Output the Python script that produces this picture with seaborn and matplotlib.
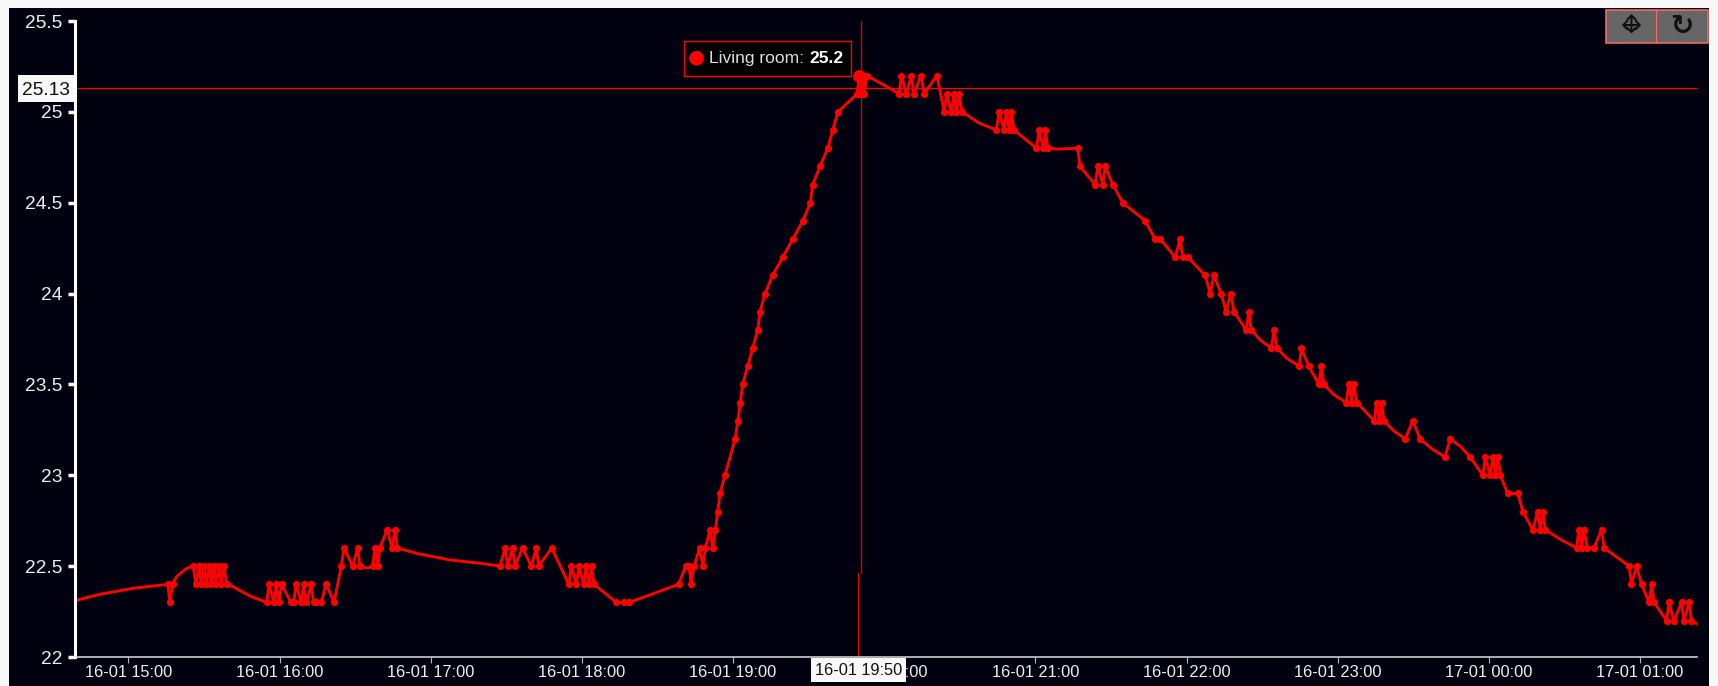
import pandas as pd
import seaborn as sns
import matplotlib.pyplot as plt
from matplotlib.patches import Rectangle

# Sensor readings, minutes after 16-01 15:00
dot_minutes = [
    15.6, 16.5, 17.5, 25.7, 26.8, 28.0, 28.9, 30.0, 30.9, 32.0, 32.9, 33.9, 34.9, 35.9, 36.8, 37.9, 39.0,
    54.9, 55.8, 57.8, 58.7, 59.7, 60.8, 64.5, 65.6, 66.6, 68.6, 69.6, 70.6, 72.6, 73.5, 74.4, 76.5, 78.5,
    81.6, 84.5, 85.6, 89.0, 91.0, 91.9, 96.9, 97.9, 98.9, 99.8, 102.7, 104.7, 105.8, 106.7,
    147.5, 149.5, 150.5, 152.5, 153.4, 156.5, 159.9, 161.9, 162.8, 168.0, 174.8, 175.8, 177.8, 178.8,
    180.7, 181.7, 182.7, 183.9, 184.8, 193.7, 196.6, 198.7, 218.4, 221.2, 222.5, 223.4, 224.5, 226.8,
    228.0, 229.0, 230.9, 231.9, 233.0, 233.9, 234.8, 236.8, 240.8, 241.9, 242.9, 243.8, 245.8, 247.8,
    249.8, 250.7, 252.7, 255.7, 259.7, 263.7, 267.7, 270.7, 271.6, 274.5, 277.6, 279.6, 281.6,
    289.3, 290.0, 290.8, 291.4, 292.0, 293.1, 305.9, 306.8, 308.8, 310.8, 311.7, 314.7, 315.8, 320.9,
    323.8, 324.8, 326.5, 327.7, 328.6, 329.7, 330.9, 344.5, 345.6, 347.6, 348.5, 349.6, 350.5, 351.5,
    360.4, 361.5, 363.1, 364.0, 364.9, 376.8, 377.7, 383.7, 384.8, 386.8, 387.7, 390.7, 394.7, 403.6,
    407.5, 409.6, 415.5, 417.4, 418.5, 420.5, 427.4, 429.4, 430.9, 433.7, 435.7, 437.5, 438.9, 443.6,
    444.8, 445.6, 453.6, 454.8, 455.8, 464.7, 465.6, 468.5, 472.5, 473.5, 474.5, 483.3, 484.4, 485.5,
    486.4, 487.6, 494.5, 495.4, 496.4, 497.4, 498.4, 506.8, 509.8, 512.7, 522.6, 524.6, 532.6, 537.6,
    538.5, 540.5, 541.6, 542.6, 543.6, 544.6, 547.4, 551.5, 553.5, 557.4, 559.4, 560.4, 561.4, 562.4,
    574.8, 575.7, 576.8, 577.8, 579.0, 581.7, 584.7, 585.8, 595.7, 596.6, 598.6, 600.6, 603.6, 604.6,
    605.6, 610.5, 611.5, 613.4, 616.5, 617.4, 619.5, 620.4,
]
dot_temps = [
    22.4, 22.3, 22.4, 22.5, 22.4, 22.5, 22.4, 22.5, 22.4, 22.5, 22.4, 22.5, 22.4, 22.5, 22.4, 22.5, 22.4,
    22.3, 22.4, 22.3, 22.4, 22.3, 22.4, 22.3, 22.3, 22.4, 22.3, 22.4, 22.3, 22.4, 22.3, 22.3, 22.3, 22.4,
    22.3, 22.5, 22.6, 22.5, 22.6, 22.5, 22.5, 22.6, 22.5, 22.6, 22.7, 22.6, 22.7, 22.6,
    22.5, 22.6, 22.5, 22.6, 22.5, 22.6, 22.5, 22.6, 22.5, 22.6, 22.4, 22.5, 22.4, 22.5,
    22.4, 22.5, 22.4, 22.5, 22.4, 22.3, 22.3, 22.3, 22.4, 22.5, 22.5, 22.4, 22.5, 22.6,
    22.5, 22.6, 22.7, 22.6, 22.7, 22.8, 22.9, 23.0, 23.2, 23.3, 23.4, 23.5, 23.6, 23.7,
    23.8, 23.9, 24.0, 24.1, 24.2, 24.3, 24.4, 24.5, 24.6, 24.7, 24.8, 24.9, 25.0,
    25.1, 25.2, 25.1, 25.2, 25.1, 25.2, 25.1, 25.2, 25.1, 25.2, 25.1, 25.2, 25.1, 25.2,
    25.0, 25.1, 25.0, 25.1, 25.0, 25.1, 25.0, 24.9, 25.0, 24.9, 25.0, 24.9, 25.0, 24.9,
    24.8, 24.9, 24.8, 24.9, 24.8, 24.8, 24.7, 24.6, 24.7, 24.6, 24.7, 24.6, 24.5, 24.4,
    24.3, 24.3, 24.2, 24.3, 24.2, 24.2, 24.1, 24.0, 24.1, 24.0, 23.9, 24.0, 23.9, 23.8,
    23.9, 23.8, 23.7, 23.8, 23.7, 23.6, 23.7, 23.6, 23.5, 23.6, 23.5, 23.4, 23.5, 23.4,
    23.5, 23.4, 23.3, 23.4, 23.3, 23.4, 23.3, 23.2, 23.3, 23.2, 23.1, 23.2, 23.1, 23.0,
    23.1, 23.0, 23.1, 23.0, 23.1, 23.0, 22.9, 22.9, 22.8, 22.7, 22.8, 22.7, 22.8, 22.7,
    22.6, 22.7, 22.6, 22.7, 22.6, 22.6, 22.7, 22.6, 22.5, 22.4, 22.5, 22.4, 22.3, 22.4,
    22.3, 22.2, 22.3, 22.2, 22.3, 22.2, 22.3, 22.2,
]

# Places where the smoothed line bends between readings (no dot drawn there)
bend_minutes = [-21.2, -11.3, 1.8, 19.1, 23.1, 41.5, 48.2, 94.6, 114.4, 127.6, 139.5, 337.4, 369.0,
                449.2, 459.8, 478.6, 502.1, 517.4, 528.6, 568.3, 622.6]
bend_temps = [22.31, 22.345, 22.378, 22.442, 22.488, 22.387, 22.336, 22.49, 22.57, 22.534, 22.516, 24.94, 24.795,
              23.745, 23.644, 23.442, 23.246, 23.145, 23.16, 22.648, 22.18]

hover_minute = [290.0]
hover_temp = [25.2]
cursor_temp = 25.13

y_ticks = [22, 22.5, 23, 23.5, 24, 24.5, 25, 25.5]
y_labels = ["22", "22.5", "23", "23.5", "24", "24.5", "25", "25.5"]
x_ticks = [0, 60, 120, 180, 240, 300, 360, 420, 480, 540, 600]
x_labels = ["16-01 15:00", "16-01 16:00", "16-01 17:00", "16-01 18:00", "16-01 19:00", "16-01 20:00",
            "16-01 21:00", "16-01 22:00", "16-01 23:00", "17-01 00:00", "17-01 01:00"]

W, H = 1718, 686
RED = "#ff0000"
PANEL = "#01010f"

sns.set_style("white")
plt.rcParams["font.family"] = ["Liberation Sans", "DejaVu Sans"]

fig = plt.figure(figsize=(W / 100, H / 100), dpi=100, facecolor="#f8f8f8")


def box(x0, y0, x1, y1, **kw):
    # rectangle given in image pixels, y downwards
    fig.add_artist(Rectangle((x0 / W, 1 - y1 / H), (x1 - x0) / W, (y1 - y0) / H, transform=fig.transFigure, **kw))


def label(x, y, s, **kw):
    fig.text(x / W, 1 - y / H, s, **kw)


box(9, 8, 1709, 686, fc=PANEL, ec="none", zorder=-5)

ax = fig.add_axes([75 / W, 1 - 657 / H, (1697 - 75) / W, (657 - 21) / H])
ax.patch.set_alpha(0)

dots = pd.DataFrame({"minutes": dot_minutes, "temp": dot_temps})
bends = pd.DataFrame({"minutes": bend_minutes, "temp": bend_temps})
line = pd.concat([dots, bends]).sort_values("minutes")

sns.lineplot(data=line, x="minutes", y="temp", estimator=None, color=RED, lw=2.1, ax=ax)
sns.scatterplot(data=dots, x="minutes", y="temp", color=RED, s=27, linewidth=0, ax=ax, zorder=3)
sns.scatterplot(x=hover_minute, y=hover_temp, color=RED, s=85, linewidth=0, ax=ax, zorder=4)

ax.set_xlim(-21.2, 622.6)
ax.set_ylim(22, 25.5)
ax.set_xlabel("")
ax.set_ylabel("")
ax.set_yticks(y_ticks, y_labels)
ax.set_xticks(x_ticks, x_labels)
ax.tick_params(axis="y", direction="out", left=True, length=4.8, width=2.5, color="white", pad=4.3,
               labelsize=13.8, labelcolor="#eeeeee")
ax.tick_params(axis="x", direction="out", bottom=True, length=4.3, width=0.8, color="#bbbbbb", pad=1.5,
               labelsize=11.8, labelcolor="#eeeeee")
sns.despine(ax=ax, top=True, right=True)
ax.spines["left"].set(color="white", linewidth=2.2)
ax.spines["bottom"].set(color="#dddddd", linewidth=1.1)

# Crosshair: the vertical hair is broken in two, slightly offset pieces
ax.axhline(cursor_temp, color=RED, lw=0.9, zorder=2)
ax.axvline(290.7, ymin=84 / 636, ymax=1, color="#d40000", lw=1.0, zorder=2)
ax.axvline(289.7, ymin=0, ymax=84 / 636, color="#ee0000", lw=1.0, zorder=2)

# Cursor value boxes
box(18, 75, 74, 102, fc="#f8f8f8", ec="none", zorder=5)
label(70, 88.5, "25.13", ha="right", va="center_baseline", fontsize=13.8, color="#111111", zorder=6)
box(811, 658, 906, 682, fc="#f8f8f8", ec="none", zorder=5)
label(858.3, 669, "16-01 19:50", ha="center", va="center_baseline", fontsize=11.8, color="#111111", zorder=6)

# Tooltip
box(683.5, 40.5, 850.5, 75.5, fc="black", ec=RED, lw=1.0, zorder=5)
label(696.7, 56.7, "\u25cf", ha="center", va="center", fontsize=14, color=RED, family="DejaVu Sans", zorder=6)
label(709, 57, "Living room: ", ha="left", va="center_baseline", fontsize=12.5, color="#dddddd", zorder=6)
label(809.5, 57, "25.2", ha="left", va="center_baseline", fontsize=12.5, fontweight="bold", color="white", zorder=6)

# Zoom buttons
box(1605.5, 10, 1708, 42.5, fc="#666666", ec="#ff6b6b", lw=1.1, zorder=5)
box(1656, 10, 1657.4, 42.5, fc="#ff6b6b", ec="none", zorder=6)
label(1631, 26, "\u2194", ha="center", va="center", fontsize=18, color="#111111", family="DejaVu Sans", zorder=7)
label(1631, 26, "\u2195", ha="center", va="center", fontsize=18, color="#111111", family="DejaVu Sans", zorder=7)
label(1682, 26, "\u21bb", ha="center", va="center", fontsize=20, fontweight="bold", color="#111111", family="DejaVu Sans", zorder=7)

fig.savefig("out.png", dpi=100, facecolor=fig.get_facecolor())
